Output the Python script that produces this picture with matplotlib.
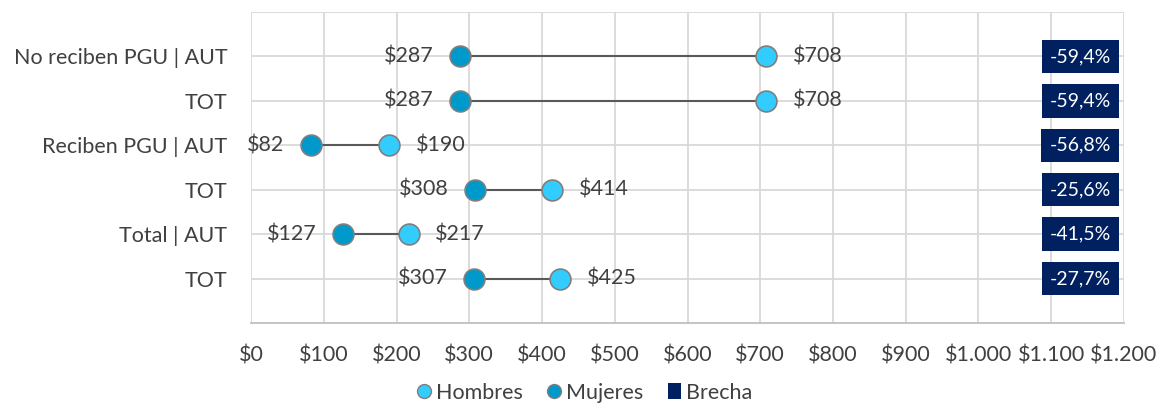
import matplotlib
matplotlib.use("Agg")
import matplotlib.pyplot as plt
from matplotlib.lines import Line2D
from matplotlib.patches import Patch
from matplotlib.ticker import FuncFormatter

plt.rcParams["font.family"] = ["Lato", "DejaVu Sans"]

categories = ["No reciben PGU | AUT", "TOT", "Reciben PGU | AUT", "TOT", "Total | AUT", "TOT"]
hombres = [708, 708, 190, 414, 217, 425]
mujeres = [287, 287, 82, 308, 127, 307]
brecha = [-59.4, -59.4, -56.8, -25.6, -41.5, -27.7]
brecha_x = 1140

c_hom = "#33CCFF"
c_muj = "#0099CC"
c_bre = "#002060"
c_txt = "#404040"
c_grid = "#D9D9D9"
fs = 15.5


def peso(v, pos=None):
    return "$" + f"{v:,.0f}".replace(",", ".")


fig = plt.figure(figsize=(11.58, 4.03), dpi=100)
ax = fig.add_axes([0.2168, 0.1985, 0.7538, 0.7717])

n = len(categories)
ys = list(range(n, 0, -1))

for y, h, m in zip(ys, hombres, mujeres):
    ax.plot([m, h], [y, y], color="#595959", lw=1.5, zorder=2)

ax.plot(hombres, ys, "o", ms=15, mfc=c_hom, mec="#7F7F7F", mew=1.2, ls="none", zorder=3)
ax.plot(mujeres, ys, "o", ms=15, mfc=c_muj, mec="#7F7F7F", mew=1.2, ls="none", zorder=3)

for y, h, m, b in zip(ys, hombres, mujeres, brecha):
    ax.annotate(peso(m), (m, y), xytext=(-19, 0), textcoords="offset points",
                ha="right", va="center", fontsize=fs, color=c_txt)
    ax.annotate(peso(h), (h, y), xytext=(19, 0), textcoords="offset points",
                ha="left", va="center", fontsize=fs, color=c_txt)
    ax.text(brecha_x, y, f"{b:.1f}%".replace(".", ","), ha="center", va="center",
            fontsize=14, color="white", zorder=4,
            bbox=dict(boxstyle="square,pad=0.42", fc=c_bre, ec="none"))

ax.set_xlim(0, 1200)
ax.set_ylim(0, 7)
ax.set_xticks(range(0, 1201, 100))
ax.xaxis.set_major_formatter(FuncFormatter(peso))
ax.set_yticks(ys)
ax.set_yticklabels(categories)
ax.set_yticks([7], minor=True)
ax.grid(True, which="both", color=c_grid, lw=1.3, zorder=0)
ax.tick_params(axis="both", which="both", length=0, labelsize=fs, labelcolor=c_txt)
ax.tick_params(axis="x", pad=16)
ax.tick_params(axis="y", pad=17)
for s in ["top", "right", "left"]:
    ax.spines[s].set_visible(False)
ax.spines["bottom"].set_color("#BFBFBF")
ax.spines["bottom"].set_linewidth(1.3)

handles = [
    Line2D([], [], marker="o", ls="none", ms=10, mfc=c_hom, mec="#7F7F7F", mew=1, label="Hombres"),
    Line2D([], [], marker="o", ls="none", ms=10, mfc=c_muj, mec="#7F7F7F", mew=1, label="Mujeres"),
    Patch(fc=c_bre, ec="none", label="Brecha"),
]
leg = fig.legend(handles=handles, loc="lower center", bbox_to_anchor=(0.505, -0.047), ncol=3,
                 frameon=False, fontsize=fs, handlelength=0.6, handletextpad=0.25, columnspacing=1.15)
for t in leg.get_texts():
    t.set_color(c_txt)

fig.savefig("out.png", dpi=100)
